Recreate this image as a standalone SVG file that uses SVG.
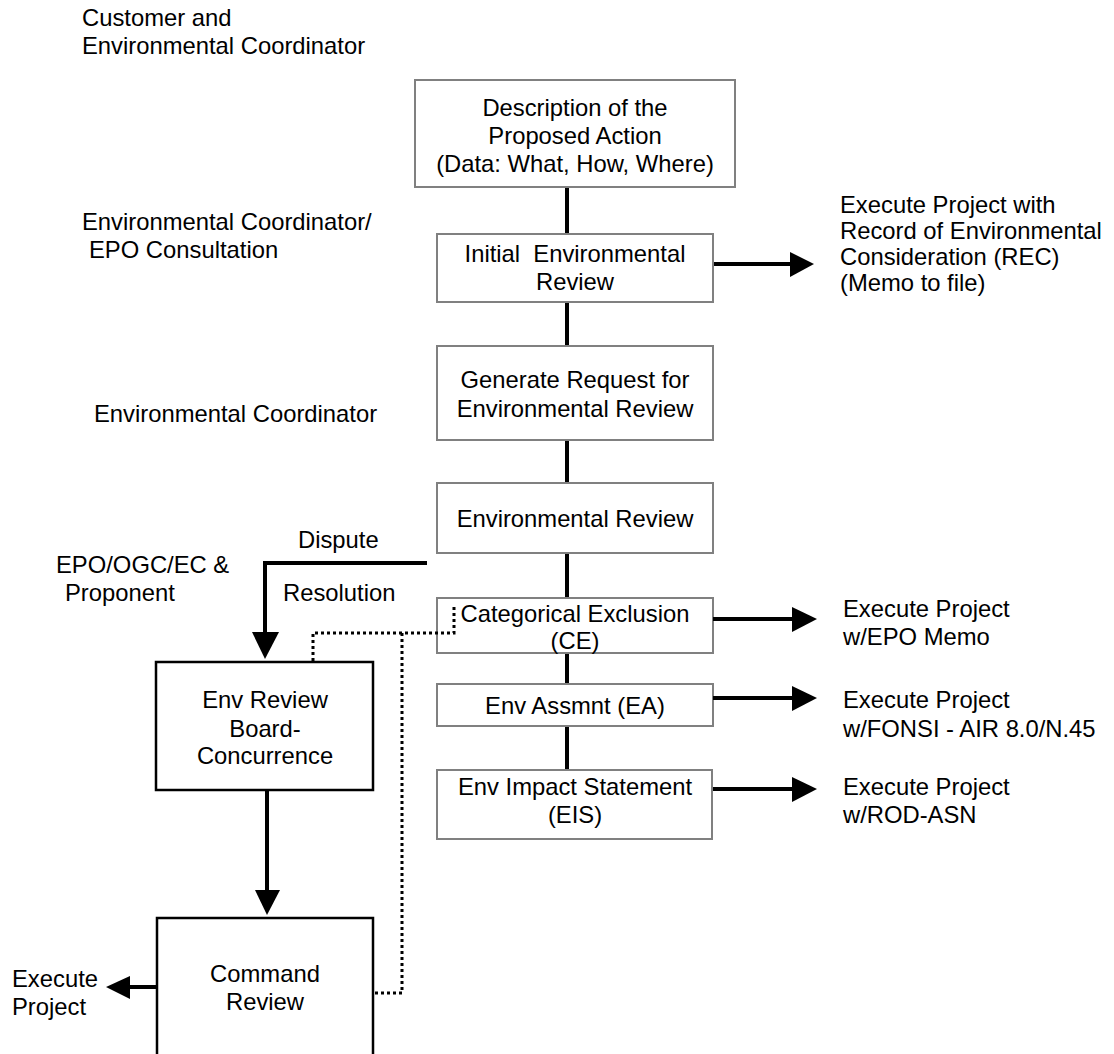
<svg xmlns="http://www.w3.org/2000/svg" width="1114" height="1054" viewBox="0 0 1114 1054">
<style>
text{font-family:"Liberation Sans",Arial,sans-serif;font-size:23.8px;fill:#000}
.c{text-anchor:middle}
.box{fill:#fff;stroke:#808080;stroke-width:2}
.bbox{fill:#fff;stroke:#000;stroke-width:2.5}
.ln{stroke:#000;stroke-width:4;fill:none}
.dot{stroke:#000;stroke-width:3;fill:none;stroke-dasharray:3 3}
.ah{fill:#000}
</style>
<rect width="1114" height="1054" fill="#fff"/>
<g id="labels">
<text x="82" y="26">Customer and</text>
<text x="82" y="54">Environmental Coordinator</text>
<text x="82" y="230">Environmental Coordinator/</text>
<text x="89" y="258">EPO Consultation</text>
<text x="94" y="422">Environmental Coordinator</text>
<text x="56" y="573">EPO/OGC/EC &amp;</text>
<text x="65" y="601">Proponent</text>
<text x="298" y="548">Dispute</text>
<text x="283" y="601">Resolution</text>
<text x="840" y="213">Execute Project with</text>
<text x="840" y="239">Record of Environmental</text>
<text x="840" y="265">Consideration (REC)</text>
<text x="840" y="291">(Memo to file)</text>
<text x="843" y="617">Execute Project</text>
<text x="843" y="645">w/EPO Memo</text>
<text x="843" y="708">Execute Project</text>
<text x="843" y="737">w/FONSI - AIR 8.0/N.45</text>
<text x="843" y="795">Execute Project</text>
<text x="843" y="823">w/ROD-ASN</text>
<text x="12" y="987">Execute</text>
<text x="12" y="1015">Project</text>
</g>
<g id="n-description">
<rect class="box" x="415" y="80" width="320" height="107"/>
<text class="c" x="575" y="116">Description of the</text>
<text class="c" x="575" y="144">Proposed Action</text>
<text class="c" x="575" y="172">(Data: What, How, Where)</text>
</g>
<g id="n-initial">
<rect class="box" x="437" y="234" width="276" height="68"/>
<text class="c" x="575" y="262" xml:space="preserve">Initial  Environmental</text>
<text class="c" x="575" y="290">Review</text>
</g>
<g id="n-generate">
<rect class="box" x="437" y="346" width="276" height="94"/>
<text class="c" x="575" y="388">Generate Request for</text>
<text class="c" x="575" y="417">Environmental Review</text>
</g>
<g id="n-envreview">
<rect class="box" x="437" y="483" width="276" height="70"/>
<text class="c" x="575" y="527">Environmental Review</text>
</g>
<g id="n-ce">
<rect class="box" x="437" y="598" width="276" height="55"/>
<text class="c" x="575" y="622">Categorical Exclusion</text>
<text class="c" x="575" y="649">(CE)</text>
</g>
<g id="n-ea">
<rect class="box" x="437" y="684" width="276" height="42"/>
<text class="c" x="575" y="714">Env Assmnt (EA)</text>
</g>
<g id="n-eis">
<rect class="box" x="437" y="770" width="275" height="69"/>
<text class="c" x="575" y="795">Env Impact Statement</text>
<text class="c" x="575" y="823">(EIS)</text>
</g>
<g id="n-board">
<rect class="bbox" x="156" y="662" width="217" height="128"/>
<text class="c" x="265" y="708">Env Review</text>
<text class="c" x="265" y="737">Board-</text>
<text class="c" x="265" y="764">Concurrence</text>
</g>
<g id="n-command">
<rect class="bbox" x="157" y="918" width="216" height="150"/>
<text class="c" x="265" y="982">Command</text>
<text class="c" x="265" y="1010">Review</text>
</g>
<g id="connectors">
<path class="ln" d="M567 188V233M567 303V345M567 441V482M567 554V597M567 654V683M567 727V769"/>
<path class="ln" d="M714 264H792"/>
<polygon class="ah" points="790,252 814,264 790,277"/>
<path class="ln" d="M713 619H794"/>
<polygon class="ah" points="792,607 817,619 792,632"/>
<path class="ln" d="M713 698H794"/>
<polygon class="ah" points="792,686 817,698 792,711"/>
<path class="ln" d="M713 789H794"/>
<polygon class="ah" points="792,777 817,789 792,802"/>
<path class="ln" d="M427 563H265V634"/>
<polygon class="ah" points="252,632 279,632 265,659"/>
<path class="ln" d="M267 791V892"/>
<polygon class="ah" points="255,890 280,890 267,915"/>
<path class="ln" d="M156 987H128"/>
<polygon class="ah" points="130,976 106,987 130,999"/>
<path class="dot" d="M313 661V633H454V607"/>
<path class="dot" d="M402 633V993H374"/>
</g>
</svg>
